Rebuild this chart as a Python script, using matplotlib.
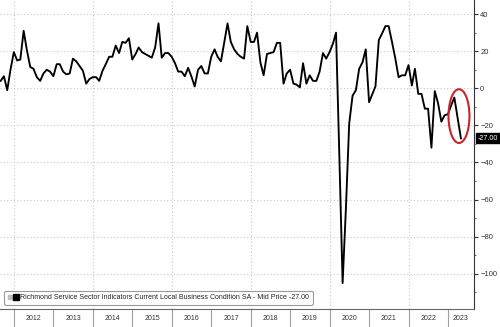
import pandas as pd
import numpy as np
import matplotlib
matplotlib.use('Agg')
import matplotlib.pyplot as plt
import matplotlib.dates as mdates
from matplotlib.patches import Ellipse
from matplotlib.lines import Line2D
from matplotlib.legend_handler import HandlerTuple

# Richmond Fed services survey - current local business conditions (SA), monthly
vals_2011 = [4, 6.5, -1, 10, 19.5]  # Aug-Dec
vals_2012 = [15, 15.5, 31, 20.5, 11.5, 10.5, 6, 4, 8, 10, 9, 6.5]
vals_2013 = [13, 13, 9, 7.5, 8, 16, 14.5, 12, 9.5, 2.5, 5, 6]
vals_2014 = [6, 4, 9.5, 13, 17, 17, 23, 19, 25, 24.5, 27, 15.5]
vals_2015 = [18.5, 22, 19.5, 18.5, 17.5, 16.5, 22, 35, 16.5, 19, 19, 17]
vals_2016 = [13.5, 9, 9, 6.5, 11, 6.5, 1, 10, 12, 8, 8, 17]
vals_2017 = [21, 17, 14.5, 24.5, 35, 25, 21, 18.5, 17, 16, 33.5, 25]
vals_2018 = [25, 30, 14, 7, 18.5, 19, 19.5, 24.5, 24.5, 2.5, 8, 10]
vals_2019 = [2.5, 2, 0.5, 13.5, 2.5, 7, 4, 4, 9, 19, 16, 19.5]
vals_2020 = [24, 30, -37, -105, -64, -19, -4, -1, 10.5, 14, 21, -7.5]
vals_2021 = [-3, 1, 26, 29.5, 33.5, 33.5, 25, 16, 6, 7, 7, 12.5]
vals_2022 = [1.5, 10.5, -3, -3, -11, -11, -32, -1.5, -8, -18, -14.5, -14]
vals_2023 = [-9, -5, -16, -27]  # Jan-Apr

series_name = "Richmond Service Sector Indicators Current Local Business Condition SA - Mid Price"
years = list(range(2012, 2024))

values = (vals_2011 + vals_2012 + vals_2013 + vals_2014 + vals_2015 + vals_2016
          + vals_2017 + vals_2018 + vals_2019 + vals_2020 + vals_2021 + vals_2022 + vals_2023)
dates = pd.period_range('2011-08', periods=len(values), freq='M').to_timestamp(how='end').normalize()
df = pd.DataFrame({'date': dates, 'value': values})
last = df.iloc[-1]

plt.rcParams['font.family'] = ['Liberation Sans', 'DejaVu Sans']

fig = plt.figure(figsize=(5, 3.27), dpi=100)
ax = fig.add_axes([0, 0.055, 0.948, 0.945])

x_left = pd.Timestamp('2011-08-25')
x_right = pd.Timestamp('2023-08-29')

# dotted grid: every 20 on y, every other year on x
for y in range(-100, 41, 20):
    ax.axhline(y, color='#c8c8c8', lw=0.8, ls=(0, (1, 2)), zorder=0)
for yr in years[::2]:
    ax.axvline(pd.Timestamp(f'{yr}-01-01'), color='#c8c8c8', lw=0.8, ls=(0, (1, 2)), zorder=0)

ax.plot(df['date'], df['value'], color='black', lw=1.35, zorder=3)

ax.set_xlim(x_left, x_right)
ax.set_ylim(-119, 47.6)

# right-hand value axis
ax.yaxis.tick_right()
ax.set_yticks(range(-100, 41, 20))
ax.set_yticks(range(-110, 41, 10), minor=True)
ax.tick_params(axis='y', which='major', length=3, width=0.8, pad=1.5,
               labelsize=5.5, labelcolor='#333333', color='#333333')
ax.tick_params(axis='y', which='minor', length=1.5, width=0.6, color='#555555')

# year separators as long ticks, year names centred between them
year_starts = [mdates.date2num(pd.Timestamp(f'{yr}-01-01')) for yr in years]
mids = [mdates.date2num(pd.Timestamp(f'{yr}-07-02')) for yr in years[:-1]]
mids.append((year_starts[-1] + mdates.date2num(x_right)) / 2)
ax.set_xticks(year_starts)
ax.set_xticklabels([''] * len(year_starts))
ax.set_xticks(mids, minor=True)
ax.set_xticklabels([str(y) for y in years], minor=True)
ax.tick_params(axis='x', which='major', length=13, width=0.8, color='#a0a0a0')
ax.tick_params(axis='x', which='minor', length=0, pad=4.5, labelsize=5, labelcolor='#333333')

for side in ['left', 'top']:
    ax.spines[side].set_visible(False)
ax.spines['right'].set_color('#333333')
ax.spines['bottom'].set_color('#666666')
ax.spines['right'].set_linewidth(0.8)
ax.spines['bottom'].set_linewidth(0.8)

# legend box in the lower left
handle = (Line2D([], [], ls='', marker='s', color='#bdbdbd', ms=3),
          Line2D([], [], ls='', marker='s', color='black', ms=5))
leg = ax.legend([handle], [f"{series_name} {last['value']:.2f}"],
                handler_map={tuple: HandlerTuple(ndivide=None, pad=0.2)},
                loc='lower left', bbox_to_anchor=(0.002, 0.003), fontsize=5.05,
                handlelength=1.4, handletextpad=0.35, borderpad=0.5,
                fancybox=True, framealpha=1, edgecolor='#9a9a9a')
leg.get_frame().set_linewidth(0.8)
for t in leg.get_texts():
    t.set_color('#222222')

# last value tag on the right axis
ax.text(1.008, last['value'], f"{last['value']:.2f}", transform=ax.get_yaxis_transform(),
        ha='left', va='center', fontsize=5.2, color='white', clip_on=False,
        bbox=dict(boxstyle='square,pad=0.2', fc='black', ec='black'))

# red ring around the latest move
center = mdates.date2num(last['date']) - 18
ax.add_patch(Ellipse((center, last['value'] + 12), width=194, height=29,
                     fill=False, ec='#c8262b', lw=1.5, zorder=4, clip_on=False))

fig.savefig('out.png', dpi=100)
